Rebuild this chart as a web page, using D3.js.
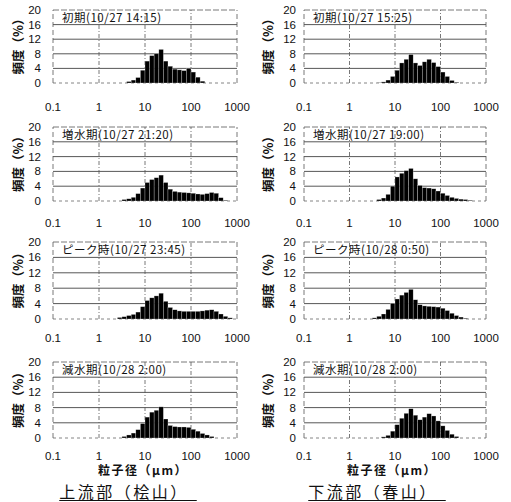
<!DOCTYPE html>
<html>
<head>
<meta charset="utf-8">
<script src="https://cdn.jsdelivr.net/npm/d3@7"></script>
<style>
  body { margin: 0; background: #fff; }
  text { font-family: "Liberation Sans", "Noto Sans CJK JP", sans-serif; fill: #111; }
  text.jp { font-family: "Noto Sans CJK JP", sans-serif; }
</style>
</head>
<body>
<script>
// particle size class edges (µm), 0.1 decade wide
var sizeEdges = [2.51, 3.16, 3.98, 5.01, 6.31, 7.94, 10, 12.6, 15.8, 20.0, 25.1, 31.6, 39.8,
                 50.1, 63.1, 79.4, 100, 126, 158, 200, 251, 316, 398, 501, 631, 794, 1000];

// frequency (%) per class, upstream (桧山)
var upInitial = [0,0,0.4,0.8,1.5,3.5,6.0,7.5,8.0,9.2,6.0,4.6,3.8,3.6,3.4,4.0,3.0,1.6,0.5,0,0,0,0,0,0,0];
var upRising  = [0,0.4,0.6,1.0,2.0,3.5,5.0,5.8,6.3,7.0,5.0,3.2,2.6,2.4,2.3,2.2,2.1,1.9,1.8,2.0,2.3,2.1,0.9,0.2,0,0];
var upPeak    = [0.4,0.6,0.9,1.2,1.8,3.2,4.8,5.5,6.0,6.7,4.6,3.0,2.4,2.1,2.0,2.0,2.0,2.0,2.1,2.3,2.4,2.0,1.3,0.7,0.3,0];
var upFalling = [0,0.4,0.8,1.3,2.2,3.8,5.5,6.8,7.3,8.2,5.0,3.3,3.0,2.9,2.9,2.8,2.3,1.8,1.2,0.8,0.4,0,0,0,0,0];

// frequency (%) per class, downstream (春山)
var downInitial = [0,0,0.1,0.3,0.8,1.8,3.5,5.5,6.5,7.8,5.5,4.8,5.8,6.5,5.6,4.5,3.0,1.8,0.7,0.2,0,0,0,0,0,0];
var downRising  = [0,0,0.4,0.8,1.8,4.0,6.5,7.5,8.2,8.8,6.0,4.2,3.6,3.5,3.3,2.7,2.1,1.5,1.0,0.7,0.5,0.4,0.2,0,0,0];
var downPeak    = [0,0.3,0.7,1.3,2.5,4.0,5.2,6.2,6.9,7.7,5.0,3.7,3.4,3.3,3.2,3.1,2.8,2.2,1.5,0.9,0.5,0.2,0,0,0,0];
var downFalling = [0,0,0,0.3,0.7,1.8,3.5,5.2,6.5,7.7,6.0,4.8,5.5,6.4,5.8,4.5,3.2,2.0,1.0,0.4,0,0,0,0,0,0];

var upTitles = ["初期(10/27 14:15)", "増水期(10/27 21:20)", "ピーク時(10/27 23:45)", "減水期(10/28 2:00)"];
var downTitles = ["初期(10/27 15:25)", "増水期(10/27 19:00)", "ピーク時(10/28 0:50)", "減水期(10/28 2:00)"];

var xTicks = [0.1, 1, 10, 100, 1000];
var xTickLabels = ["0.1", "1", "10", "100", "1000"];
var yTicks = [0, 4, 8, 12, 16, 20];
var gridX = [1, 10, 100];
var gridY = [4, 8, 12, 16];

var siteNames = ["上流部（桧山）", "下流部（春山）"];
var yLabel = "頻度（%）";
var xLabel = "粒子径（μm）";

var columns = [
  { series: [upInitial, upRising, upPeak, upFalling], titles: upTitles },
  { series: [downInitial, downRising, downPeak, downFalling], titles: downTitles }
];

// layout
var width = 511, height = 502;
var colLeft = [53, 304], colRight = [237, 486];
var rowTop = [10, 127, 242, 362], rowBottom = [83, 201, 319, 438];
var xTickGap = [28, 26, 23, 22];
var yTickRight = [41, 296];
var yLabelX = [23, 273];
var xLabelCenter = [143, 392];
var siteCenter = [124, 373];

var svg = d3.select("body").append("svg")
    .attr("width", width)
    .attr("height", height);

svg.append("rect").attr("width", width).attr("height", height).attr("fill", "#fff");

columns.forEach(function(col, c) {
  col.series.forEach(function(values, r) {
    var x = d3.scaleLog()
        .domain([0.1, 1000])
        .range([colLeft[c], colRight[c]]);
    var y = d3.scaleLinear()
        .domain([0, 20])
        .range([rowBottom[r], rowTop[r]]);

    var g = svg.append("g");

    // grid
    g.selectAll(".gy")
      .data(gridY)
      .enter().append("line")
        .attr("x1", x(0.1)).attr("x2", x(1000))
        .attr("y1", function(d) { return y(d); })
        .attr("y2", function(d) { return y(d); })
        .attr("stroke", "#444")
        .attr("stroke-width", 0.9);

    g.selectAll(".gx")
      .data(gridX)
      .enter().append("line")
        .attr("x1", function(d) { return x(d); })
        .attr("x2", function(d) { return x(d); })
        .attr("y1", y(0)).attr("y2", y(20))
        .attr("stroke", "#555")
        .attr("stroke-width", 0.8)
        .attr("stroke-dasharray", "4,2,1,2");

    // frame
    g.append("line")
        .attr("x1", x(0.1)).attr("x2", x(1000))
        .attr("y1", y(20)).attr("y2", y(20))
        .attr("stroke", "#555").attr("stroke-width", 0.8)
        .attr("stroke-dasharray", "6,2");
    g.append("line")
        .attr("x1", x(0.1)).attr("x2", x(1000))
        .attr("y1", y(0)).attr("y2", y(0))
        .attr("stroke", "#666").attr("stroke-width", 0.8)
        .attr("stroke-dasharray", "3,3");
    [0.1, 1000].forEach(function(v) {
      g.append("line")
          .attr("x1", x(v)).attr("x2", x(v))
          .attr("y1", y(0)).attr("y2", y(20))
          .attr("stroke", "#555").attr("stroke-width", 0.8)
          .attr("stroke-dasharray", "5,3");
    });

    // histogram bars
    g.selectAll("rect.bar")
      .data(values.map(function(v, i) { return { v: v, lo: sizeEdges[i], hi: sizeEdges[i + 1] }; })
                  .filter(function(d) { return d.v > 0; }))
      .enter().append("rect")
        .attr("class", "bar")
        .attr("x", function(d) { return x(d.lo); })
        .attr("width", function(d) { return x(d.hi) - x(d.lo); })
        .attr("y", function(d) { return y(d.v); })
        .attr("height", function(d) { return y(0) - y(d.v); })
        .attr("fill", "#000")
        .attr("stroke", "#fff")
        .attr("stroke-opacity", 0.5)
        .attr("stroke-width", 0.5);

    // title inside plot
    g.append("text")
        .attr("class", "jp")
        .attr("x", x(0.1) + 9)
        .attr("y", y(20) + 11.5)
        .attr("font-size", 11.5)
        .attr("letter-spacing", 0.5)
        .text(col.titles[r]);

    // y tick labels
    g.selectAll(".yt")
      .data(yTicks)
      .enter().append("text")
        .attr("x", yTickRight[c])
        .attr("y", function(d) { return y(d) + 4; })
        .attr("text-anchor", "end")
        .attr("font-size", 11.5)
        .text(function(d) { return d; });

    // x tick labels
    g.selectAll(".xt")
      .data(xTicks)
      .enter().append("text")
        .attr("x", function(d) { return x(d); })
        .attr("y", y(0) + xTickGap[r])
        .attr("text-anchor", "middle")
        .attr("font-size", 11.5)
        .text(function(d, i) { return xTickLabels[i]; });

    // y axis label
    var cy = (y(0) + y(20)) / 2 - 3;
    g.append("text")
        .attr("class", "jp")
        .attr("transform", "translate(" + yLabelX[c] + "," + cy + ") rotate(-90)")
        .attr("text-anchor", "middle")
        .attr("font-size", 12.5)
        .attr("font-weight", "bold")
        .text(yLabel);
  });

  // x axis label under bottom panel
  svg.append("text")
      .attr("class", "jp")
      .attr("x", xLabelCenter[c])
      .attr("y", 475)
      .attr("text-anchor", "middle")
      .attr("font-size", 12)
      .attr("font-weight", "bold")
      .attr("letter-spacing", 1.5)
      .text(xLabel);

  var site = svg.append("text")
      .attr("class", "jp")
      .attr("x", siteCenter[c])
      .attr("y", 497.5)
      .attr("text-anchor", "middle")
      .attr("font-size", 16)
      .attr("letter-spacing", 2.5)
      .text(siteNames[c]);
  var bb = site.node().getBBox();
  svg.append("line")
      .attr("x1", bb.x).attr("x2", bb.x + bb.width + 8)
      .attr("y1", 500.5).attr("y2", 500.5)
      .attr("stroke", "#111").attr("stroke-width", 1);
});
</script>
</body>
</html>
